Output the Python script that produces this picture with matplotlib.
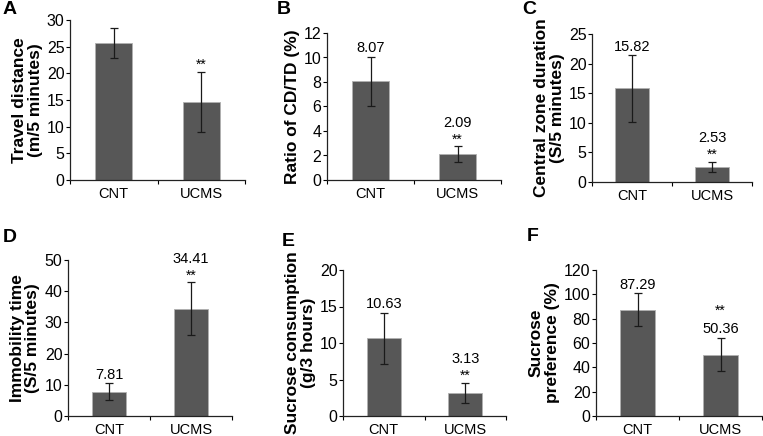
import numpy as np
import matplotlib.pyplot as plt
from matplotlib.ticker import FixedLocator, NullFormatter

plt.rcParams['font.family'] = ['Liberation Sans', 'DejaVu Sans']

groups = ["CNT", "UCMS"]

# panel data: mean values and error (half height of error bar)
travel_mean = [25.7, 14.6]
travel_err = [2.8, 5.65]
ratio_mean = [8.07, 2.09]
ratio_err = [2.0, 0.65]
central_mean = [15.82, 2.53]
central_err = [5.65, 0.92]
immob_mean = [7.81, 34.41]
immob_err = [2.7, 8.4]
sucrose_mean = [10.63, 3.13]
sucrose_err = [3.5, 1.4]
pref_mean = [87.29, 50.36]
pref_err = [13.5, 13.5]

# which labels to show above bars
value_labels = {
    "B": ["8.07", "2.09"],
    "C": ["15.82", "2.53"],
    "D": ["7.81", "34.41"],
    "E": ["10.63", "3.13"],
    "F": ["87.29", "50.36"],
}

W, H = 763, 436

panels = [
    # letter, mean, err, ylim, ystep, ylabel, box(left, right, top, bottom in px), signif idx, letter pos
    ("A", travel_mean, travel_err, 30, 5, "Travel distance\n(m/5 minutes)", (70, 245, 20, 180), 1, (3, 10)),
    ("B", ratio_mean, ratio_err, 12, 2, "Ratio of CD/TD (%)", (327, 501, 33, 180), 1, (277, 10)),
    ("C", central_mean, central_err, 25, 5, "Central zone duration\n(S/5 minutes)", (592, 752, 34, 182), 1, (522, 10)),
    ("D", immob_mean, immob_err, 50, 10, "Immobility time\n(S/5 minutes)", (68, 232, 260, 416), 1, (3, 238)),
    ("E", sucrose_mean, sucrose_err, 20, 5, "Sucrose consumption\n(g/3 hours)", (343, 506, 270, 416), 1, (282, 241)),
    ("F", pref_mean, pref_err, 120, 20, "Sucrose\npreference (%)", (596, 762, 270, 416), 1, (527, 236)),
]

fig = plt.figure(figsize=(W / 100, H / 100), dpi=100)

x = np.arange(len(groups))

for letter, mean, err, ymax, ystep, ylabel, box, sig, lpos in panels:
    l, r, t, b = box
    ax = fig.add_axes([l / W, (H - b) / H, (r - l) / W, (b - t) / H])
    ax.bar(x, mean, width=0.42, color="#575757", edgecolor="#b0b0b0", linewidth=0.6, zorder=2)
    ax.errorbar(x, mean, yerr=err, fmt="none", ecolor="#1a1a1a", elinewidth=0.9,
                capsize=2.6, capthick=0.9, zorder=3)
    ax.set_xlim(-0.5, 1.5)
    ax.set_ylim(0, ymax)
    ax.set_yticks(np.arange(0, ymax + 0.01, ystep))
    ax.xaxis.set_major_locator(FixedLocator([-0.5, 0.5, 1.5]))
    ax.xaxis.set_major_formatter(NullFormatter())
    ax.xaxis.set_minor_locator(FixedLocator(x))
    ax.set_xticklabels(groups, minor=True)
    ax.tick_params(axis="x", which="minor", length=0, labelsize=10.5, pad=5)
    ax.tick_params(axis="x", which="major", length=3, width=0.8, direction="out")
    ax.tick_params(axis="y", length=3, width=0.8, labelsize=11.5, pad=1)
    for s in ["top", "right"]:
        ax.spines[s].set_visible(False)
    for s in ["left", "bottom"]:
        ax.spines[s].set_linewidth(0.9)
        ax.spines[s].set_color("#222222")
    ax.set_ylabel(ylabel, fontsize=12.5, fontweight="bold", labelpad=3, linespacing=1.05)

    labels = value_labels.get(letter)
    for i in range(len(groups)):
        top = mean[i] + err[i]
        if letter == "F" and i == sig:
            ax.annotate("**", (x[i], top), xytext=(0, 15), textcoords="offset points",
                        ha="center", va="bottom", fontsize=10)
            ax.annotate(labels[i], (x[i], top), xytext=(0, 2), textcoords="offset points",
                        ha="center", va="bottom", fontsize=10.5)
            continue
        off = 1
        if i == sig:
            ax.annotate("**", (x[i], top), xytext=(0, 0), textcoords="offset points",
                        ha="center", va="bottom", fontsize=10)
            off = 12
        if labels is not None:
            ax.annotate(labels[i], (x[i], top), xytext=(0, off), textcoords="offset points",
                        ha="center", va="bottom", fontsize=10.5)

    fig.text(lpos[0] / W, 1 - lpos[1] / H, letter, fontsize=14, fontweight="bold",
             ha="left", va="center")

fig.savefig("out.png", dpi=100)
